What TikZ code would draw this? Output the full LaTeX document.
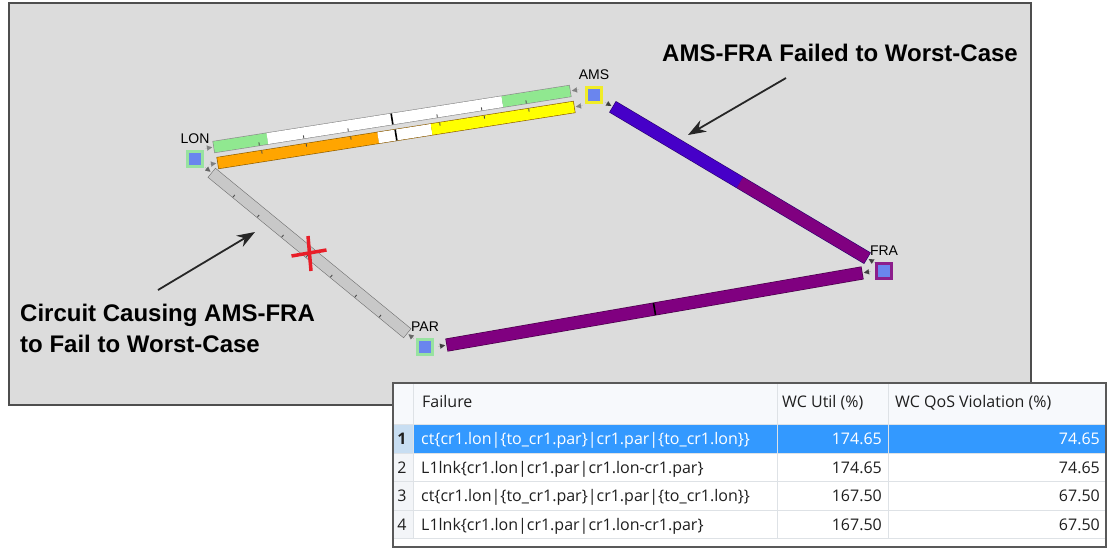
\documentclass[tikz,border=0pt]{standalone}
\usepackage{fontspec}
\setmainfont{Liberation Sans}
\newfontfamily\tablefont{Open Sans}
\usetikzlibrary{calc,arrows.meta,positioning}

\definecolor{panelgray}{RGB}{220,220,220}
\definecolor{panelline}{RGB}{78,78,78}
\definecolor{sitefill}{RGB}{106,133,238}
\definecolor{sitegreen}{RGB}{152,226,160}
\definecolor{siteyellow}{RGB}{240,236,40}
\definecolor{sitepurple}{RGB}{140,30,140}
\definecolor{utilgreen}{RGB}{144,232,144}
\definecolor{utilorange}{RGB}{255,165,0}
\definecolor{utilyellow}{RGB}{255,255,0}
\definecolor{failgray}{RGB}{200,200,200}
\definecolor{wcblue}{RGB}{70,0,200}
\definecolor{wcpurple}{RGB}{128,0,128}
\definecolor{selblue}{RGB}{51,153,255}
\definecolor{selnum}{RGB}{200,222,242}
\definecolor{numfill}{RGB}{243,245,248}
\definecolor{gridline}{RGB}{222,226,230}
\definecolor{headfill}{RGB}{247,249,252}
\definecolor{crossred}{RGB}{232,30,40}

% failure names in the table
\newcommand{\ctfail}{ct\{cr1.lon|\{to\_cr1.par\}|cr1.par|\{to\_cr1.lon\}\}}
\newcommand{\lnkfail}{L1lnk\{cr1.lon|cr1.par|cr1.lon-cr1.par\}}

% link bar: start, end, width, outline, segments from/to/colour
\newcommand{\linkbar}[5]{%
  \draw[line cap=butt, line width=#3pt+1.2pt, draw=#4,
        shorten <=-0.6pt, shorten >=-0.6pt] (#1) -- (#2);
  \foreach \segfrom/\segto/\segcol in {#5}{%
    \draw[line cap=butt, line width=#3pt, draw=\segcol]
      ($(#1)!\segfrom!(#2)$) -- ($(#1)!\segto!(#2)$);
  }%
}
% short ticks on one edge: start, end, half width, side, positions
\newcommand{\barticks}[5]{%
  \foreach \pos in {#5}{%
    \coordinate (tk) at ($(#1)!\pos!(#2)$);
    \draw[tickmark] ($(tk)!#3pt!#4:(#2)$) -- ($(tk)!#3pt-3pt!#4:(#2)$);
  }%
}
% mark across the whole bar: start, end, half width, position
\newcommand{\barmark}[4]{%
  \coordinate (mk) at ($(#1)!#4!(#2)$);
  \draw[midmark] ($(mk)!#3pt!90:(#2)$) -- ($(mk)!#3pt!-90:(#2)$);
}
% direction triangles at both ends of a bar
\newcommand{\bartips}[3]{%
  \draw[dirtip=#3] ($(#1)!-9pt!(#2)$) -- ($(#1)!-2pt!(#2)$);
  \draw[dirtip=#3] ($(#2)!-9pt!(#1)$) -- ($(#2)!-2pt!(#1)$);
}

\begin{document}
\begin{tikzpicture}[
    x=1pt, y=-1pt,
    panel/.style={draw=panelline, line width=2pt, fill=panelgray},
    site/.style={draw=#1, line width=3pt, fill=sitefill, minimum size=15pt, inner sep=0pt},
    sitelabel/.style={font=\fontsize{14}{16}\selectfont, inner sep=0pt},
    callout/.style={font=\bfseries\fontsize{24}{31}\selectfont, align=left, inner sep=0pt},
    pointer/.style={-{Stealth[length=18pt,width=13pt]}, line width=1.8pt, draw=black!85},
    dirtip/.style={-{Triangle[length=5pt,width=5pt]}, line width=0.01pt, draw=#1},
    tickmark/.style={draw=black!70, line width=0.9pt},
    midmark/.style={draw=black, line width=1.6pt},
    cutmark/.style={draw=crossred, line width=3.5pt},
    tableedge/.style={draw=black!65, line width=1.5pt, fill=white},
    gridrule/.style={draw=gridline, line width=1pt},
    cell/.style={font=\tablefont\fontsize{16}{19}\selectfont, inner sep=0pt, text=black!88}
]
    \useasboundingbox (0,0) rectangle (1111,550);

    % Map panel
    \draw[panel] (9,3) rectangle (1031,405);

    % Sites
    \node[site=sitegreen] (lon) at (195,159) {};
    \node[site=siteyellow] (ams) at (594,95) {};
    \node[site=sitepurple] (fra) at (884,271) {};
    \node[site=sitegreen] (par) at (425,347) {};

    \node[sitelabel, above=6pt of lon] (lonlabel) {LON};
    \node[sitelabel, above=6pt of ams] (amslabel) {AMS};
    \node[sitelabel, above=6pt of fra] (fralabel) {FRA};
    \node[sitelabel, above=6pt of par] (parlabel) {PAR};

    % Bar ends
    \coordinate (lonamsA) at ($(lon)+(19,-12)$);
    \coordinate (lonamsB) at ($(ams)+(-24,-4)$);
    \coordinate (lonamsC) at ($(lon)+(23,4)$);
    \coordinate (lonamsD) at ($(ams)+(-20,12)$);
    \coordinate (lonparA) at ($(lon)+(17,14)$);
    \coordinate (lonparB) at ($(par)+(-18,-14)$);
    \coordinate (amsfraA) at ($(ams)+(19,12)$);
    \coordinate (amsfraB) at ($(fra)+(-17,-13)$);
    \coordinate (parfraA) at ($(par)+(22,-2)$);
    \coordinate (parfraB) at ($(fra)+(-22,2)$);

    % Links
    \linkbar{lonamsA}{lonamsB}{11}{black!45}{0/0.15/utilgreen, 0.15/0.81/white, 0.81/1/utilgreen}
    \linkbar{lonamsC}{lonamsD}{11}{utilorange!55!black}{0/0.45/utilorange, 0.45/0.60/white, 0.60/1/utilyellow}
    \linkbar{lonparA}{lonparB}{11}{black!55}{0/1/failgray}
    \linkbar{amsfraA}{amsfraB}{12}{wcblue!55!black}{0/0.5/wcblue, 0.5/1/wcpurple}
    \linkbar{parfraA}{parfraB}{12}{wcpurple!55!black}{0/1/wcpurple}

    \barticks{lonamsA}{lonamsB}{5.5}{-90}{0.125,0.25,0.375,0.625,0.75,0.875}
    \barticks{lonamsC}{lonamsD}{5.5}{90}{0.125,0.25,0.375,0.625,0.75,0.875}
    \barticks{lonparA}{lonparB}{5.5}{-90}{0.125,0.25,0.375,0.5,0.625,0.75,0.875}
    \barmark{lonamsA}{lonamsB}{5.5}{0.5}
    \barmark{lonamsC}{lonamsD}{5.5}{0.5}
    \barmark{parfraA}{parfraB}{6}{0.5}

    \bartips{lonamsA}{lonamsB}{black!50}
    \bartips{lonamsC}{lonamsD}{black!50}
    \bartips{lonparA}{lonparB}{black!60}
    \bartips{amsfraA}{amsfraB}{black!75}
    \bartips{parfraA}{parfraB}{black!75}

    % Failed circuit
    \coordinate (cut) at ($(lonparA)!0.5!(lonparB)$);
    \draw[cutmark] ($(cut)+(-18,3)$) -- ($(cut)+(17,-3)$);
    \draw[cutmark] ($(cut)+(-1.5,-17)$) -- ($(cut)+(1.5,18)$);

    % Callouts
    \node[callout, anchor=base west] (wctext) at (662,61) {AMS-FRA Failed to Worst-Case};
    \node[callout, anchor=north west] (cuttext) at (20,304) {Circuit Causing AMS-FRA\\to Fail to Worst-Case};

    \coordinate (wcfrom) at (786,78);
    \coordinate (wcto) at (688,135);
    \draw[pointer] (wcfrom) -- (wcto);
    \coordinate (cutfrom) at (158,290);
    \coordinate (cutto) at (255,232);
    \draw[pointer] (cutfrom) -- (cutto);

    % Failure table
    \draw[tableedge] (393,383) rectangle (1106,547);
    \fill[headfill] (394,384) rectangle (1105,424);
    \fill[numfill] (394,424) rectangle (413,538.5);
    \fill[selnum] (394,424) rectangle (413,453);
    \fill[selblue] (413,424) rectangle (1105,453);
    \foreach \yy in {424,453,481.5,510,538.5}
        \draw[gridrule] (394,\yy) -- (1105,\yy);
    \foreach \xx in {413,777,888}
        \draw[gridrule] (\xx,384) -- (\xx,538.5);

    \node[cell, anchor=base west] (hfail) at (422,407.5) {Failure};
    \node[cell, anchor=base west] (hutil) at (782,407.5) {WC Util (\%)};
    \node[cell, anchor=base west] (hqos) at (895,407.5) {WC QoS Violation (\%)};

    \node[cell, font=\tablefont\bfseries\fontsize{16}{19}\selectfont, anchor=base] (n1) at (402,444.5) {1};
    \node[cell, text=white, anchor=base west] (f1) at (421,444.5) {\ctfail};
    \node[cell, text=white, anchor=base east] (u1) at (882,444.5) {174.65};
    \node[cell, text=white, anchor=base east] (q1) at (1100,444.5) {74.65};

    \foreach \n/\fail/\util/\qos in {2/\lnkfail/174.65/74.65, 3/\ctfail/167.50/67.50, 4/\lnkfail/167.50/67.50}{
        \pgfmathsetmacro\rowy{444.5+28.5*(\n-1)}
        \node[cell, anchor=base] (n\n) at (402,\rowy) {\n};
        \node[cell, anchor=base west] (f\n) at (421,\rowy) {\fail};
        \node[cell, anchor=base east] (u\n) at (882,\rowy) {\util};
        \node[cell, anchor=base east] (q\n) at (1100,\rowy) {\qos};
    }
\end{tikzpicture}
\end{document}
